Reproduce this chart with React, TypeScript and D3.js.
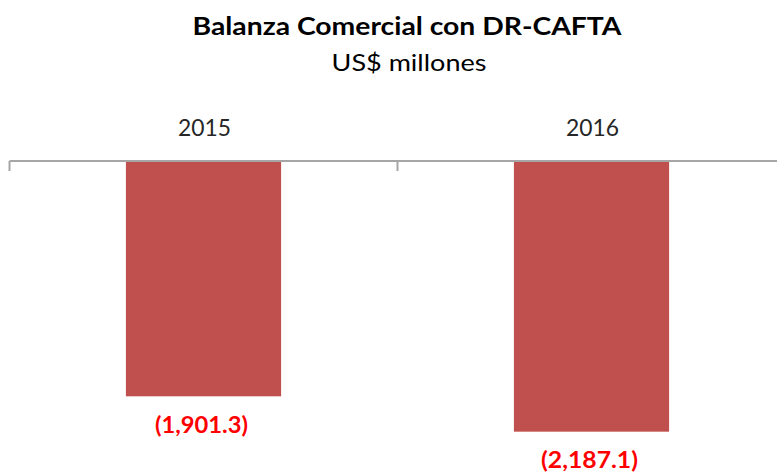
import React from "react";
import * as d3 from "d3";

const categories = ["2015", "2016"];
const values = [-1901.3, -2187.1];
const valueLabels = ["(1,901.3)", "(2,187.1)"];
const title = "Balanza Comercial con DR-CAFTA";
const subtitle = "US$ millones";

const W = 777;
const H = 474;

export default function App() {
  const x = d3
    .scaleBand<string>()
    .domain(categories)
    .range([9.5, 785.5])
    .paddingInner(0.6)
    .paddingOuter(0.3);
  const y = d3.scaleLinear().domain([-2500, 0]).range([470.4, 161]);
  const step = x.step();
  const x0 = x.range()[0];
  const boundaries = d3.range(categories.length + 1).map((i) => x0 + i * step);
  const font = "Lato, 'Open Sans', sans-serif";
  const labelW = [93, 97];

  return (
    <svg
      width={W}
      height={H}
      style={{ position: "absolute", left: 0, top: 0, background: "#fff" }}
    >
      <rect x={0} y={0} width={W} height={H} fill="#fff" />
      <text
        x={407}
        y={35}
        textAnchor="middle"
        fontFamily={font}
        fontWeight="bold"
        fontSize={25.5}
        fill="#000"
        textLength={429}
        lengthAdjust="spacingAndGlyphs"
      >
        {title}
      </text>
      <text
        x={409}
        y={71}
        textAnchor="middle"
        fontFamily={font}
        fontSize={23}
        fill="#000"
        textLength={155}
        lengthAdjust="spacingAndGlyphs"
      >
        {subtitle}
      </text>
      {categories.map((c, i) => (
        <g key={c}>
          <rect
            x={x(c)!}
            y={y(0)}
            width={x.bandwidth()}
            height={y(values[i]) - y(0)}
            fill="#C0504D"
          />
          <text
            x={x(c)! + x.bandwidth() / 2 + 1}
            y={136}
            textAnchor="middle"
            fontFamily={font}
            fontSize={23.5}
            fill="#262626"
            textLength={53}
            lengthAdjust="spacingAndGlyphs"
          >
            {c}
          </text>
          <text
            x={x(c)! + x.bandwidth() / 2 - 2}
            y={y(values[i]) + 36.5}
            textAnchor="middle"
            fontFamily={font}
            fontWeight="bold"
            fontSize={22.5}
            fill="#FF0000"
            textLength={labelW[i]}
            lengthAdjust="spacingAndGlyphs"
          >
            {valueLabels[i]}
          </text>
        </g>
      ))}
      <line
        x1={x0}
        x2={W}
        y1={y(0)}
        y2={y(0)}
        stroke="#A6A6A6"
        strokeWidth={2}
      />
      {boundaries.map((b, i) => (
        <line
          key={i}
          x1={b}
          x2={b}
          y1={y(0)}
          y2={y(0) + 10}
          stroke="#A6A6A6"
          strokeWidth={2}
        />
      ))}
    </svg>
  );
}
